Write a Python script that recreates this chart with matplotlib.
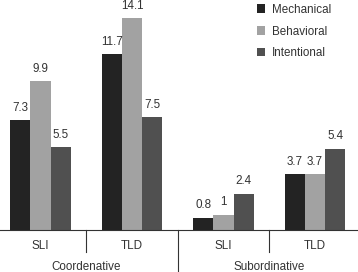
import numpy as np
import matplotlib.pyplot as plt

plt.rcParams['font.family'] = ['Liberation Sans', 'DejaVu Sans']

# data
groups = ["Coordenative", "Subordinative"]
subgroups = ["SLI", "TLD", "SLI", "TLD"]
series = ["Mechanical", "Behavioral", "Intentional"]
mechanical = [7.3, 11.7, 0.8, 3.7]
behavioral = [9.9, 14.1, 1, 3.7]
intentional = [5.5, 7.5, 2.4, 5.4]
colors = ["#232323", "#a2a2a2", "#505050"]
fs = 8.4

fig = plt.figure(figsize=(3.58, 2.72), dpi=100)
ax = fig.add_axes([0, 42 / 272, 1, 230 / 272])

x = np.arange(len(subgroups))
w = 0.222
for i, (name, vals, c) in enumerate(zip(series, [mechanical, behavioral, intentional], colors)):
    pos = x + (i - 1) * w
    ax.bar(pos, vals, width=w, color=c, label=name)
    for p, v in zip(pos, vals):
        ax.text(p, v + 0.45, f"{v:g}", ha="center", va="bottom", fontsize=fs, color="#333333")

ax.set_xlim(-0.443, 3.470)
ax.set_ylim(0, 15.33)
for s in ["top", "right", "left"]:
    ax.spines[s].set_visible(False)
ax.spines["bottom"].set_color("#333333")
ax.set_yticks([])
ax.set_xticks([])

# category labels and separators below axis
tr = ax.get_xaxis_transform()
for xi, lab in zip(x, subgroups):
    ax.text(xi, -16 / 230, lab, transform=tr, ha="center", va="center", fontsize=fs, color="#333333")
for sep in [0.5, 2.5]:
    ax.plot([sep, sep], [0, -22 / 230], transform=tr, color="#333333", lw=0.8, clip_on=False)
ax.plot([1.5, 1.5], [0, -42 / 230], transform=tr, color="#333333", lw=0.8, clip_on=False)
for gc, g in zip([0.5, 2.5], groups):
    ax.text(gc, -36.5 / 230, g, transform=tr, ha="center", va="center", fontsize=fs, color="#333333")

ax.legend(loc="upper left", bbox_to_anchor=(246 / 358, 1.03), frameon=False, fontsize=fs,
          handlelength=0.7, handleheight=0.7, handletextpad=0.6, labelspacing=0.85,
          labelcolor="#333333")

fig.savefig("out.png", dpi=100)
